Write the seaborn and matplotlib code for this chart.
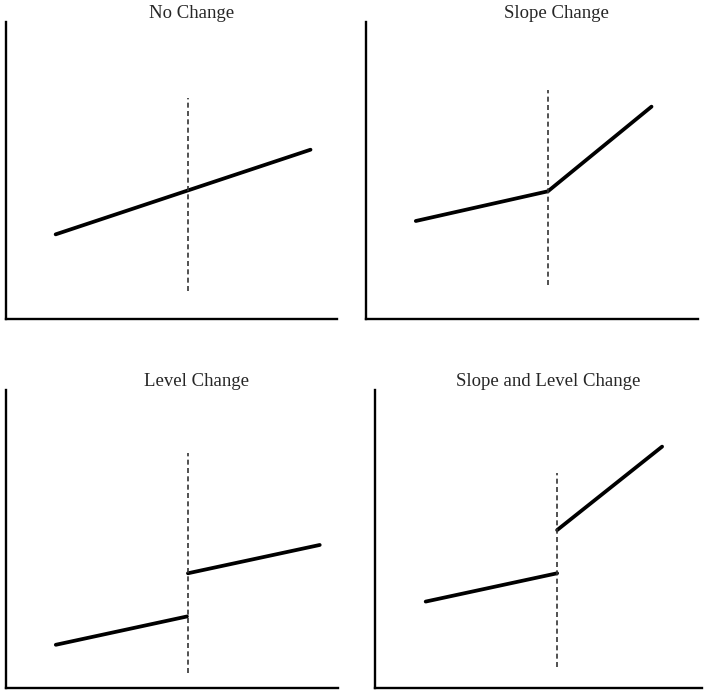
"""
Interrupted time series patterns: four schematic panels
"""
import matplotlib
matplotlib.use('Agg')
import matplotlib.pyplot as plt
import seaborn as sns

# Panel titles
titles = ['No Change', 'Slope Change', 'Level Change', 'Slope and Level Change']

# Segments per panel (x, y) on a 0-10 scale
no_change_x = [1.5, 9.2]
no_change_y = [2.85, 5.7]

slope_x = [1.5, 5.48, 8.6]
slope_y = [3.3, 4.3, 7.15]

level_pre_x = [1.5, 5.45]
level_pre_y = [1.45, 2.4]
level_post_x = [5.48, 9.45]
level_post_y = [3.85, 4.8]

both_pre_x = [1.55, 5.57]
both_pre_y = [2.9, 3.85]
both_post_x = [5.57, 8.78]
both_post_y = [5.3, 8.1]

# Intervention point and dashed-line extent per panel
interrupt_x = [5.5, 5.48, 5.48, 5.57]
interrupt_lo = [0.95, 1.15, 0.5, 0.7]
interrupt_hi = [7.45, 7.7, 7.9, 7.2]

segments = [
    [(no_change_x, no_change_y)],
    [(slope_x, slope_y)],
    [(level_pre_x, level_pre_y), (level_post_x, level_post_y)],
    [(both_pre_x, both_pre_y), (both_post_x, both_post_y)],
]

sns.set_style('white')
plt.rcParams['font.family'] = ['Liberation Serif', 'DejaVu Serif']

W, H = 712, 694
fig = plt.figure(figsize=(W / 100, H / 100), dpi=100)

# axes boxes in pixels: left, top, right, bottom
boxes = [(6, 22, 337, 319), (366, 22, 698, 319),
         (6, 390, 338, 688), (375, 390, 702, 688)]
title_x = [0.56, 0.575, 0.575, 0.53]
title_pad = [3, 3, 1.5, 1.5]

for i, (l, t, r, b) in enumerate(boxes):
    ax = fig.add_axes([l / W, 1 - b / H, (r - l) / W, (b - t) / H])
    for xs, ys in segments[i]:
        sns.lineplot(x=xs, y=ys, ax=ax, color='black', linewidth=2.7,
                     estimator=None, sort=False)
    ax.vlines(interrupt_x[i], interrupt_lo[i], interrupt_hi[i],
              colors='#333333', linewidth=1.2, linestyles=(0, (3, 2)))
    ax.set_xlim(0, 10)
    ax.set_ylim(0, 10)
    ax.set_xticks([])
    ax.set_yticks([])
    for side in ['top', 'right']:
        ax.spines[side].set_visible(False)
    for side in ['left', 'bottom']:
        ax.spines[side].set_linewidth(1.7)
        ax.spines[side].set_color('black')
    ax.set_title(titles[i], x=title_x[i], pad=title_pad[i], fontsize=13.5)

fig.savefig('out.png', dpi=100)
